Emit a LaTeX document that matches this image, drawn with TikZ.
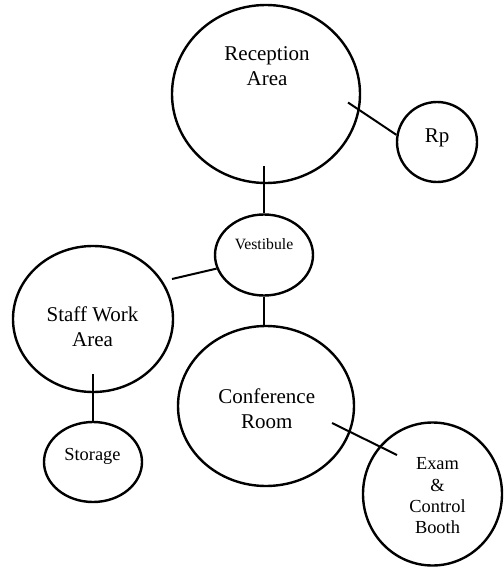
\documentclass[tikz,border=0pt]{standalone}
\usepackage{fontspec}
\setmainfont{Liberation Serif}
\usetikzlibrary{shapes.geometric}
\begin{document}
\begin{tikzpicture}[x=1pt,y=-1pt,
  room/.style={draw, ellipse, line width=2.4pt, inner sep=0pt},
  link/.style={line width=2pt},
  big/.style={font=\fontsize{21}{25}\selectfont, align=center, inner sep=0pt},
  mid/.style={font=\fontsize{18.4}{21.3}\selectfont, align=center, inner sep=0pt},
  small/.style={font=\fontsize{15.7}{19}\selectfont, align=center, inner sep=0pt}]
\useasboundingbox (0,0) rectangle (503,567);

% rooms
\node[room, minimum width=188pt, minimum height=178pt] (rec)   at (266,94)  {};
\node[room, minimum width=80pt,  minimum height=80pt]  (rp)    at (437,142) {};
\node[room, minimum width=98pt,  minimum height=81pt]  (vest)  at (264,255) {};
\node[room, minimum width=160pt, minimum height=146pt] (staff) at (93,319)  {};
\node[room, minimum width=98pt,  minimum height=80pt]  (stor)  at (93,462)  {};
\node[room, minimum width=176pt, minimum height=160pt] (conf)  at (266,406) {};
\node[room, minimum width=139pt, minimum height=143pt] (exam)  at (432.5,494) {};

% room names
\node[big]   (recT)   at (267,66.6)  {Reception\\Area};
\node[big]   (rpT)    at (437,137.6) {Rp};
\node[small] (vestT)  at (264,243.7) {Vestibule};
\node[big]   (staffT) at (92.5,326.3) {Staff Work\\Area};
\node[mid]   (storT)  at (92.5,456)  {Storage};
\node[big]   (confT)  at (266.7,408.6) {Conference\\Room};
\node[mid]   (examT)  at (437.5,496)   {Exam\\\&\\Control\\Booth};

% free ends of the connectors
\coordinate (recE)   at (348,102.5);
\coordinate (recS)   at (264,166);
\coordinate (staffE) at (172,279);
\coordinate (staffS) at (93,374);
\coordinate (confE)  at (332,423);
\coordinate (examW)  at (397,455);

% connectors
\draw[link] (recE) -- (rp.170);
\draw[link] (recS) -- (recS |- vest.north);
\draw[link] (staffE) -- (vest.196);
\draw[link] (vest.south) -- (vest.south |- conf.north);
\draw[link] (staffS) -- (staffS |- stor.north);
\draw[link] (confE) -- (examW);
\end{tikzpicture}
\end{document}
